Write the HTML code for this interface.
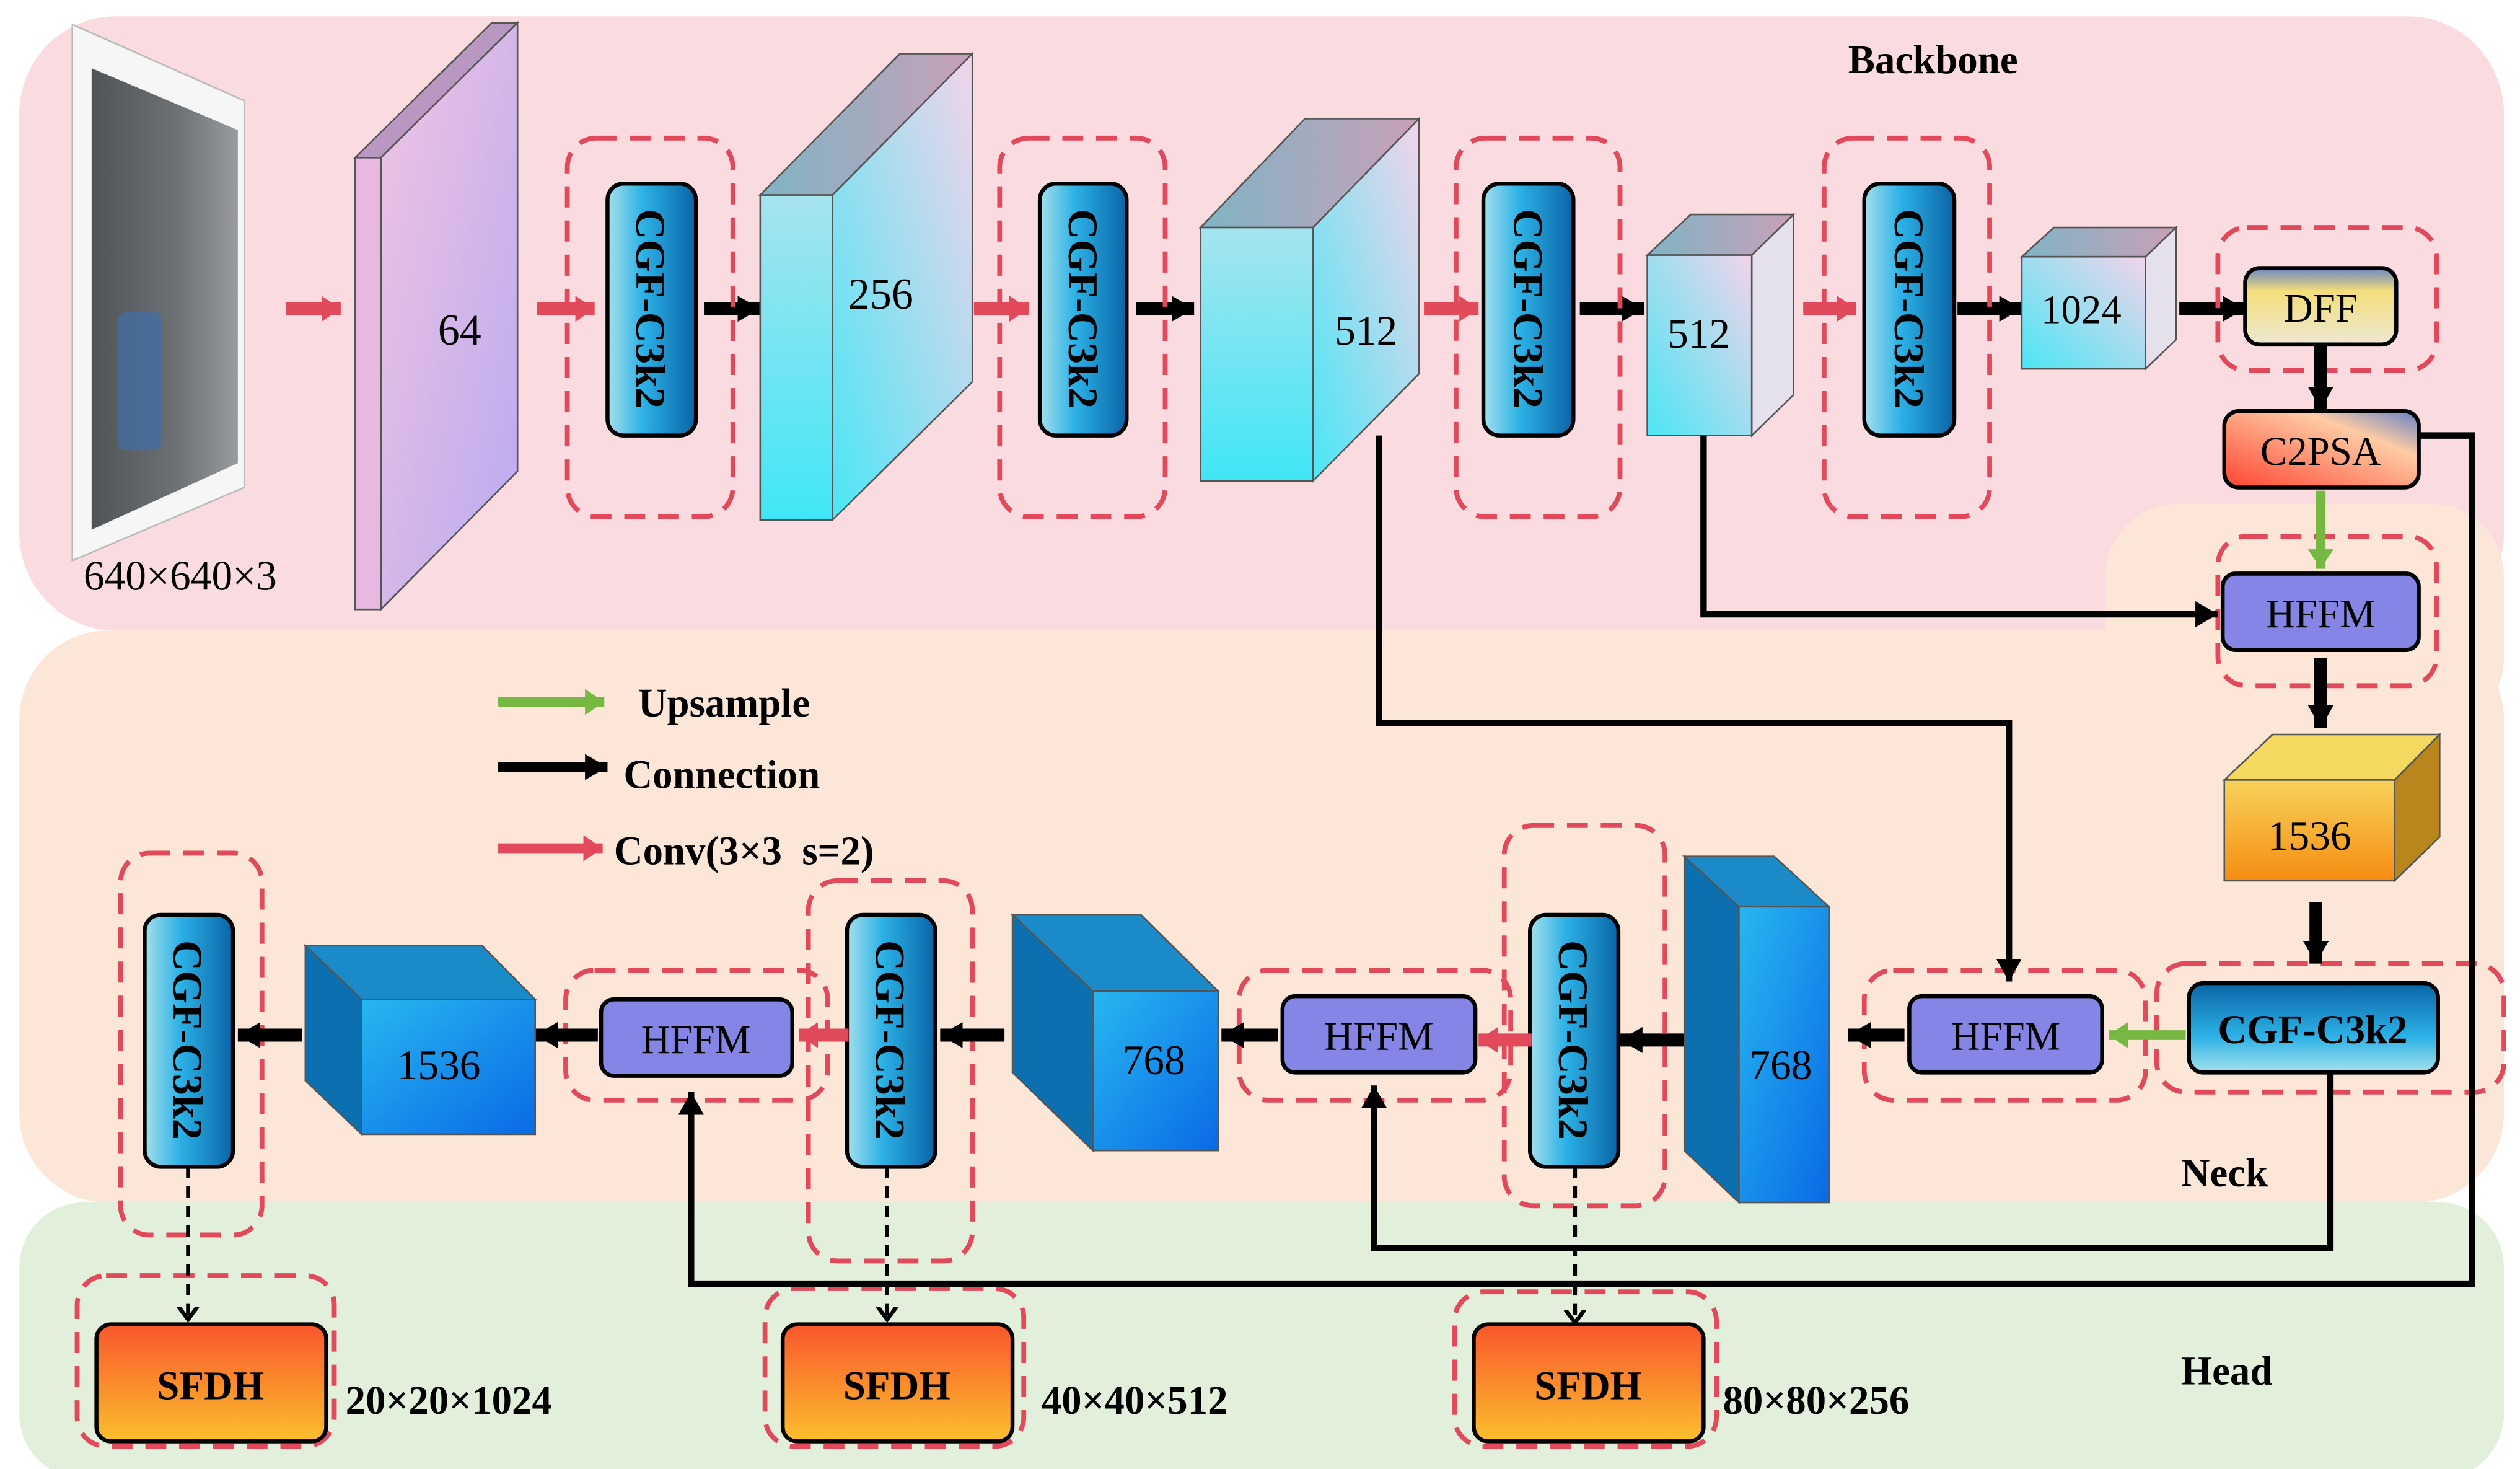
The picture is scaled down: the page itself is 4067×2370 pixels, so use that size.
<!DOCTYPE html>
<html><head><meta charset="utf-8"><style>
html,body{margin:0;padding:0;background:#fff;}
svg{display:block;}
text{font-family:"Liberation Serif",serif;}
</style></head><body>
<svg width="4067" height="2370" viewBox="0 0 1568 904" preserveAspectRatio="none" xmlns="http://www.w3.org/2000/svg">
<defs>
<marker id="mb" markerUnits="userSpaceOnUse" markerWidth="20" markerHeight="20" refX="14" refY="10" orient="auto"><path d="M0,2 L14,10 L0,18 Z" fill="#000"/></marker>
<marker id="mr" markerUnits="userSpaceOnUse" markerWidth="20" markerHeight="20" refX="12" refY="10" orient="auto"><path d="M0,2 L12,10 L0,18 Z" fill="#e24a5c"/></marker>
<marker id="mg" markerUnits="userSpaceOnUse" markerWidth="20" markerHeight="20" refX="12" refY="10" orient="auto"><path d="M0,2 L12,10 L0,18 Z" fill="#77b843"/></marker>
<marker id="md" markerUnits="userSpaceOnUse" markerWidth="16" markerHeight="16" refX="8" refY="8" orient="auto"><path d="M0,2 L8,8 L0,14" fill="none" stroke="#000" stroke-width="2.5"/></marker>
<linearGradient id="gp" x1="0" y1="0" x2="1" y2="1"><stop offset="0" stop-color="#f0c4e2"/><stop offset="1" stop-color="#b9aaf0"/></linearGradient>
<linearGradient id="gc" x1="0" y1="0" x2="0" y2="1"><stop offset="0" stop-color="#a6e4ef"/><stop offset="1" stop-color="#40e6f6"/></linearGradient>
<linearGradient id="gs" x1="0" y1="1" x2="1" y2="0"><stop offset="0" stop-color="#4ae6f5"/><stop offset="1" stop-color="#f3d4ea"/></linearGradient>
<linearGradient id="gt" x1="0" y1="0" x2="1" y2="0"><stop offset="0" stop-color="#7fb4c4"/><stop offset="1" stop-color="#c9a0b8"/></linearGradient>
<linearGradient id="gcgf" x1="0" y1="0" x2="1" y2="0"><stop offset="0" stop-color="#a4e0ec"/><stop offset="0.4" stop-color="#2cb2e6"/><stop offset="1" stop-color="#0a64a6"/></linearGradient>
<linearGradient id="gcgfh" x1="0" y1="1" x2="0" y2="0"><stop offset="0" stop-color="#a4e0ec"/><stop offset="0.4" stop-color="#2cb2e6"/><stop offset="1" stop-color="#0a64a6"/></linearGradient>
<linearGradient id="gdff" x1="0" y1="0" x2="0" y2="1"><stop offset="0" stop-color="#6a86c4"/><stop offset="0.3" stop-color="#f3de7a"/><stop offset="1" stop-color="#ede8d2"/></linearGradient>
<linearGradient id="gc2" x1="0" y1="1" x2="1" y2="0"><stop offset="0" stop-color="#ff4432"/><stop offset="0.7" stop-color="#ffcca4"/><stop offset="1" stop-color="#6080c8"/></linearGradient>
<linearGradient id="gy" x1="0" y1="0" x2="0" y2="1"><stop offset="0" stop-color="#f7d25a"/><stop offset="1" stop-color="#f78d12"/></linearGradient>
<linearGradient id="gb" x1="0" y1="0" x2="1" y2="1"><stop offset="0" stop-color="#27b7f0"/><stop offset="1" stop-color="#0a6ae6"/></linearGradient>
<linearGradient id="gsf" x1="0" y1="0" x2="0" y2="1"><stop offset="0" stop-color="#f9562c"/><stop offset="1" stop-color="#fbbf2c"/></linearGradient>
<linearGradient id="gimg" x1="1" y1="0" x2="0" y2="0"><stop offset="0" stop-color="#9a9c9e"/><stop offset="0.4" stop-color="#6e7274"/><stop offset="1" stop-color="#505456"/></linearGradient>
</defs>
<rect x="12" y="10" width="1546" height="378" rx="60" fill="#f9dbe0"/>
<rect x="1310" y="310" width="248" height="140" rx="45" fill="#fbe6d8"/>
<rect x="12" y="388" width="1546" height="352" rx="55" fill="#fbe6d8"/>
<rect x="12" y="740" width="1546" height="170" rx="40" fill="#e2efda"/>
<polygon points="45,15 152,62 152,300 45,345" fill="#f6f6f6" stroke="#bbb" stroke-width="1"/>
<polygon points="57,42 148,80 148,285 57,326" fill="url(#gimg)"/>
<rect x="73" y="192" width="28" height="85" rx="6" fill="#3e6ea8" opacity="0.7"/>
<text x="52" y="363" font-size="26">640×640×3</text>
<polygon points="221,97 237,97 322,14 306,14" fill="#b898c0" stroke="#555" stroke-width="1"/>
<polygon points="221,97 237,97 237,375 221,375" fill="#e8b8e0" stroke="#555" stroke-width="1"/>
<polygon points="237,97 322,14 322,290 237,375" fill="url(#gp)" stroke="#555" stroke-width="1"/>
<text x="286" y="212" font-size="27" text-anchor="middle">64</text>
<g stroke="#e24a5c" stroke-width="8" marker-end="url(#mr)">
<line x1="178" y1="190" x2="212" y2="190"/>
<line x1="334" y1="190" x2="370" y2="190"/>
<line x1="606" y1="190" x2="640" y2="190"/>
<line x1="886" y1="190" x2="920" y2="190"/>
<line x1="1122" y1="190" x2="1155" y2="190"/>
</g>
<g stroke="#000" stroke-width="8" marker-end="url(#mb)">
<line x1="438" y1="190" x2="473" y2="190"/>
<line x1="707" y1="190" x2="743" y2="190"/>
<line x1="983" y1="190" x2="1023" y2="190"/>
<line x1="1218" y1="190" x2="1258" y2="190"/>
<line x1="1356" y1="190" x2="1397" y2="190"/>
</g>
<g fill="none" stroke="#e24a5c" stroke-width="3" stroke-dasharray="13,8">
<rect x="353" y="85" width="103" height="233" rx="18"/>
<rect x="622" y="85" width="103" height="233" rx="18"/>
<rect x="906" y="85" width="102" height="233" rx="18"/>
<rect x="1135" y="85" width="103" height="233" rx="18"/>
<rect x="1380" y="140" width="136" height="88" rx="18"/>
<rect x="1380" y="330" width="136" height="92" rx="18"/>
<rect x="1342" y="593" width="216" height="79" rx="18"/>
<rect x="1160" y="597" width="175" height="80" rx="18"/>
<rect x="936" y="508" width="100" height="234" rx="18"/>
<rect x="771" y="597" width="169" height="80" rx="18"/>
<rect x="503" y="542" width="102" height="234" rx="18"/>
<rect x="352" y="597" width="163" height="80" rx="18"/>
<rect x="75" y="525" width="88" height="235" rx="18"/>
<rect x="48" y="785" width="160" height="105" rx="18"/>
<rect x="476" y="793" width="161" height="97" rx="18"/>
<rect x="905" y="795" width="163" height="95" rx="18"/>
</g>
<g stroke="#000" stroke-width="2.5" fill="url(#gcgf)">
<rect x="378" y="113" width="55" height="155" rx="10"/>
<rect x="647" y="113" width="54" height="155" rx="10"/>
<rect x="923" y="113" width="56" height="155" rx="10"/>
<rect x="1160" y="113" width="56" height="155" rx="10"/>
<rect x="952" y="563" width="55" height="155" rx="10"/>
<rect x="527" y="563" width="55" height="155" rx="10"/>
<rect x="90" y="563" width="55" height="155" rx="10"/>
</g>
<g font-size="26" font-weight="bold" text-anchor="middle">
<text transform="translate(396,190) rotate(90)">CGF-C3k2</text>
<text transform="translate(665,190) rotate(90)">CGF-C3k2</text>
<text transform="translate(942,190) rotate(90)">CGF-C3k2</text>
<text transform="translate(1179,190) rotate(90)">CGF-C3k2</text>
<text transform="translate(970,640) rotate(90)">CGF-C3k2</text>
<text transform="translate(545,640) rotate(90)">CGF-C3k2</text>
<text transform="translate(108,640) rotate(90)">CGF-C3k2</text>
</g>
<polygon points="473,120 560,33 605,33 518,120" fill="url(#gt)" stroke="#555"/>
<rect x="473" y="120" width="45" height="200" fill="url(#gc)" stroke="#555"/>
<polygon points="518,120 605,33 605,235 518,320" fill="url(#gs)" stroke="#555"/>
<text x="548" y="190" font-size="27" text-anchor="middle">256</text>
<polygon points="747,140 812,73 883,73 817,140" fill="url(#gt)" stroke="#555"/>
<rect x="747" y="140" width="70" height="156" fill="url(#gc)" stroke="#555"/>
<polygon points="817,140 883,73 883,230 817,296" fill="url(#gs)" stroke="#555"/>
<text x="850" y="212" font-size="26" text-anchor="middle">512</text>
<polygon points="1025,157 1052,132 1116,132 1090,157" fill="url(#gt)" stroke="#555"/>
<rect x="1025" y="157" width="65" height="111" fill="url(#gs)" stroke="#555"/>
<polygon points="1090,157 1116,132 1116,243 1090,268" fill="#e4e0ec" stroke="#555"/>
<text x="1057" y="214" font-size="26" text-anchor="middle">512</text>
<polygon points="1258,158 1278,140 1354,140 1335,158" fill="url(#gt)" stroke="#555"/>
<rect x="1258" y="158" width="77" height="69" fill="url(#gs)" stroke="#555"/>
<polygon points="1335,158 1354,140 1354,209 1335,227" fill="#e4e0ec" stroke="#555"/>
<text x="1295" y="199" font-size="25" text-anchor="middle">1024</text>
<rect x="1397" y="165" width="94" height="47" rx="9" fill="url(#gdff)" stroke="#000" stroke-width="2.5"/>
<text x="1444" y="198" font-size="25" text-anchor="middle">DFF</text>
<rect x="1384" y="253" width="121" height="47" rx="9" fill="url(#gc2)" stroke="#000" stroke-width="2.5"/>
<text x="1444" y="286" font-size="25" text-anchor="middle">C2PSA</text>
<g fill="none" stroke="#000" stroke-width="4">
<polyline points="1505,268 1538,268 1538,790 430,790 430,672" marker-end="url(#mb)"/>
<polyline points="1060,268 1060,378 1380,378" marker-end="url(#mb)"/>
<polyline points="858,268 858,445 1250,445 1250,604" marker-end="url(#mb)"/>
<polyline points="1450,660 1450,768 855,768 855,668" marker-end="url(#mb)"/>
</g>
<g stroke="#000" stroke-width="8" marker-end="url(#mb)">
<line x1="1444" y1="212" x2="1444" y2="252"/>
<line x1="1444" y1="405" x2="1444" y2="448"/>
<line x1="1441" y1="555" x2="1441" y2="593"/>
<line x1="1185" y1="637" x2="1150" y2="637"/>
<line x1="1048" y1="640" x2="1008" y2="640"/>
<line x1="795" y1="637" x2="760" y2="637"/>
<line x1="625" y1="637" x2="585" y2="637"/>
<line x1="372" y1="637" x2="333" y2="637"/>
<line x1="188" y1="637" x2="148" y2="637"/>
</g>
<line x1="1444" y1="302" x2="1444" y2="350" stroke="#77b843" stroke-width="6" marker-end="url(#mg)"/>
<line x1="1360" y1="637" x2="1312" y2="637" stroke="#77b843" stroke-width="6" marker-end="url(#mg)"/>
<g stroke="#e24a5c" stroke-width="8" marker-end="url(#mr)">
<line x1="953" y1="640" x2="920" y2="640"/>
<line x1="528" y1="637" x2="497" y2="637"/>
</g>
<g fill="#8585e6" stroke="#000" stroke-width="2.5">
<rect x="1383" y="353" width="122" height="47" rx="8"/>
<rect x="1188" y="613" width="120" height="47" rx="8"/>
<rect x="798" y="613" width="120" height="47" rx="8"/>
<rect x="374" y="615" width="119" height="47" rx="8"/>
</g>
<g font-size="25" text-anchor="middle">
<text x="1444" y="386">HFFM</text>
<text x="1248" y="646">HFFM</text>
<text x="858" y="646">HFFM</text>
<text x="433" y="648">HFFM</text>
</g>
<polygon points="1384,480 1414,452 1518,452 1490,480" fill="#f5d860" stroke="#555"/>
<rect x="1384" y="480" width="106" height="62" fill="url(#gy)" stroke="#555"/>
<polygon points="1490,480 1518,452 1518,515 1490,542" fill="#b8861c" stroke="#555"/>
<text x="1437" y="523" font-size="26" text-anchor="middle">1536</text>
<rect x="1362" y="605" width="155" height="55" rx="9" fill="url(#gcgfh)" stroke="#000" stroke-width="2.5"/>
<text x="1439" y="642" font-size="25" font-weight="bold" text-anchor="middle">CGF-C3k2</text>
<polygon points="1048,527 1104,527 1138,558 1082,558" fill="#1a8ac8" stroke="#555"/>
<polygon points="1048,527 1082,558 1082,740 1048,708" fill="#0c70b0" stroke="#555"/>
<rect x="1082" y="558" width="56" height="182" fill="url(#gb)" stroke="#555"/>
<text x="1108" y="664" font-size="26" text-anchor="middle">768</text>
<polygon points="630,563 710,563 758,610 680,610" fill="#1a8ac8" stroke="#555"/>
<polygon points="630,563 680,610 680,708 630,660" fill="#0c70b0" stroke="#555"/>
<rect x="680" y="610" width="78" height="98" fill="url(#gb)" stroke="#555"/>
<text x="718" y="661" font-size="26" text-anchor="middle">768</text>
<polygon points="190,582 300,582 333,615 225,615" fill="#1a8ac8" stroke="#555"/>
<polygon points="190,582 225,615 225,698 190,665" fill="#0c70b0" stroke="#555"/>
<rect x="225" y="615" width="108" height="83" fill="url(#gb)" stroke="#555"/>
<text x="273" y="664" font-size="26" text-anchor="middle">1536</text>
<g stroke="#000" stroke-width="2.5" stroke-dasharray="7,5" marker-end="url(#md)">
<line x1="117" y1="718" x2="117" y2="812"/>
<line x1="552" y1="718" x2="552" y2="812"/>
<line x1="980" y1="718" x2="980" y2="814"/>
</g>
<g fill="url(#gsf)" stroke="#000" stroke-width="2.5">
<rect x="60" y="815" width="143" height="72" rx="9"/>
<rect x="487" y="815" width="143" height="72" rx="9"/>
<rect x="917" y="815" width="143" height="72" rx="9"/>
</g>
<g font-size="25" font-weight="bold" text-anchor="middle">
<text x="131" y="861">SFDH</text>
<text x="558" y="861">SFDH</text>
<text x="988" y="861">SFDH</text>
</g>
<g font-size="25" font-weight="bold">
<text x="215" y="870">20×20×1024</text>
<text x="648" y="870">40×40×512</text>
<text x="1072" y="870">80×80×256</text>
</g>
<line x1="310" y1="432" x2="376" y2="432" stroke="#77b843" stroke-width="6" marker-end="url(#mg)"/>
<line x1="310" y1="472" x2="378" y2="472" stroke="#000" stroke-width="6" marker-end="url(#mb)"/>
<line x1="310" y1="522" x2="375" y2="522" stroke="#e24a5c" stroke-width="6" marker-end="url(#mr)"/>
<g font-size="25" font-weight="bold">
<text x="397" y="441">Upsample</text>
<text x="388" y="485">Connection</text>
<text x="382" y="532" xml:space="preserve">Conv(3×3  s=2)</text>
<text x="1150" y="45">Backbone</text>
<text x="1357" y="730">Neck</text>
<text x="1357" y="852">Head</text>
</g>
</svg>
</body></html>
